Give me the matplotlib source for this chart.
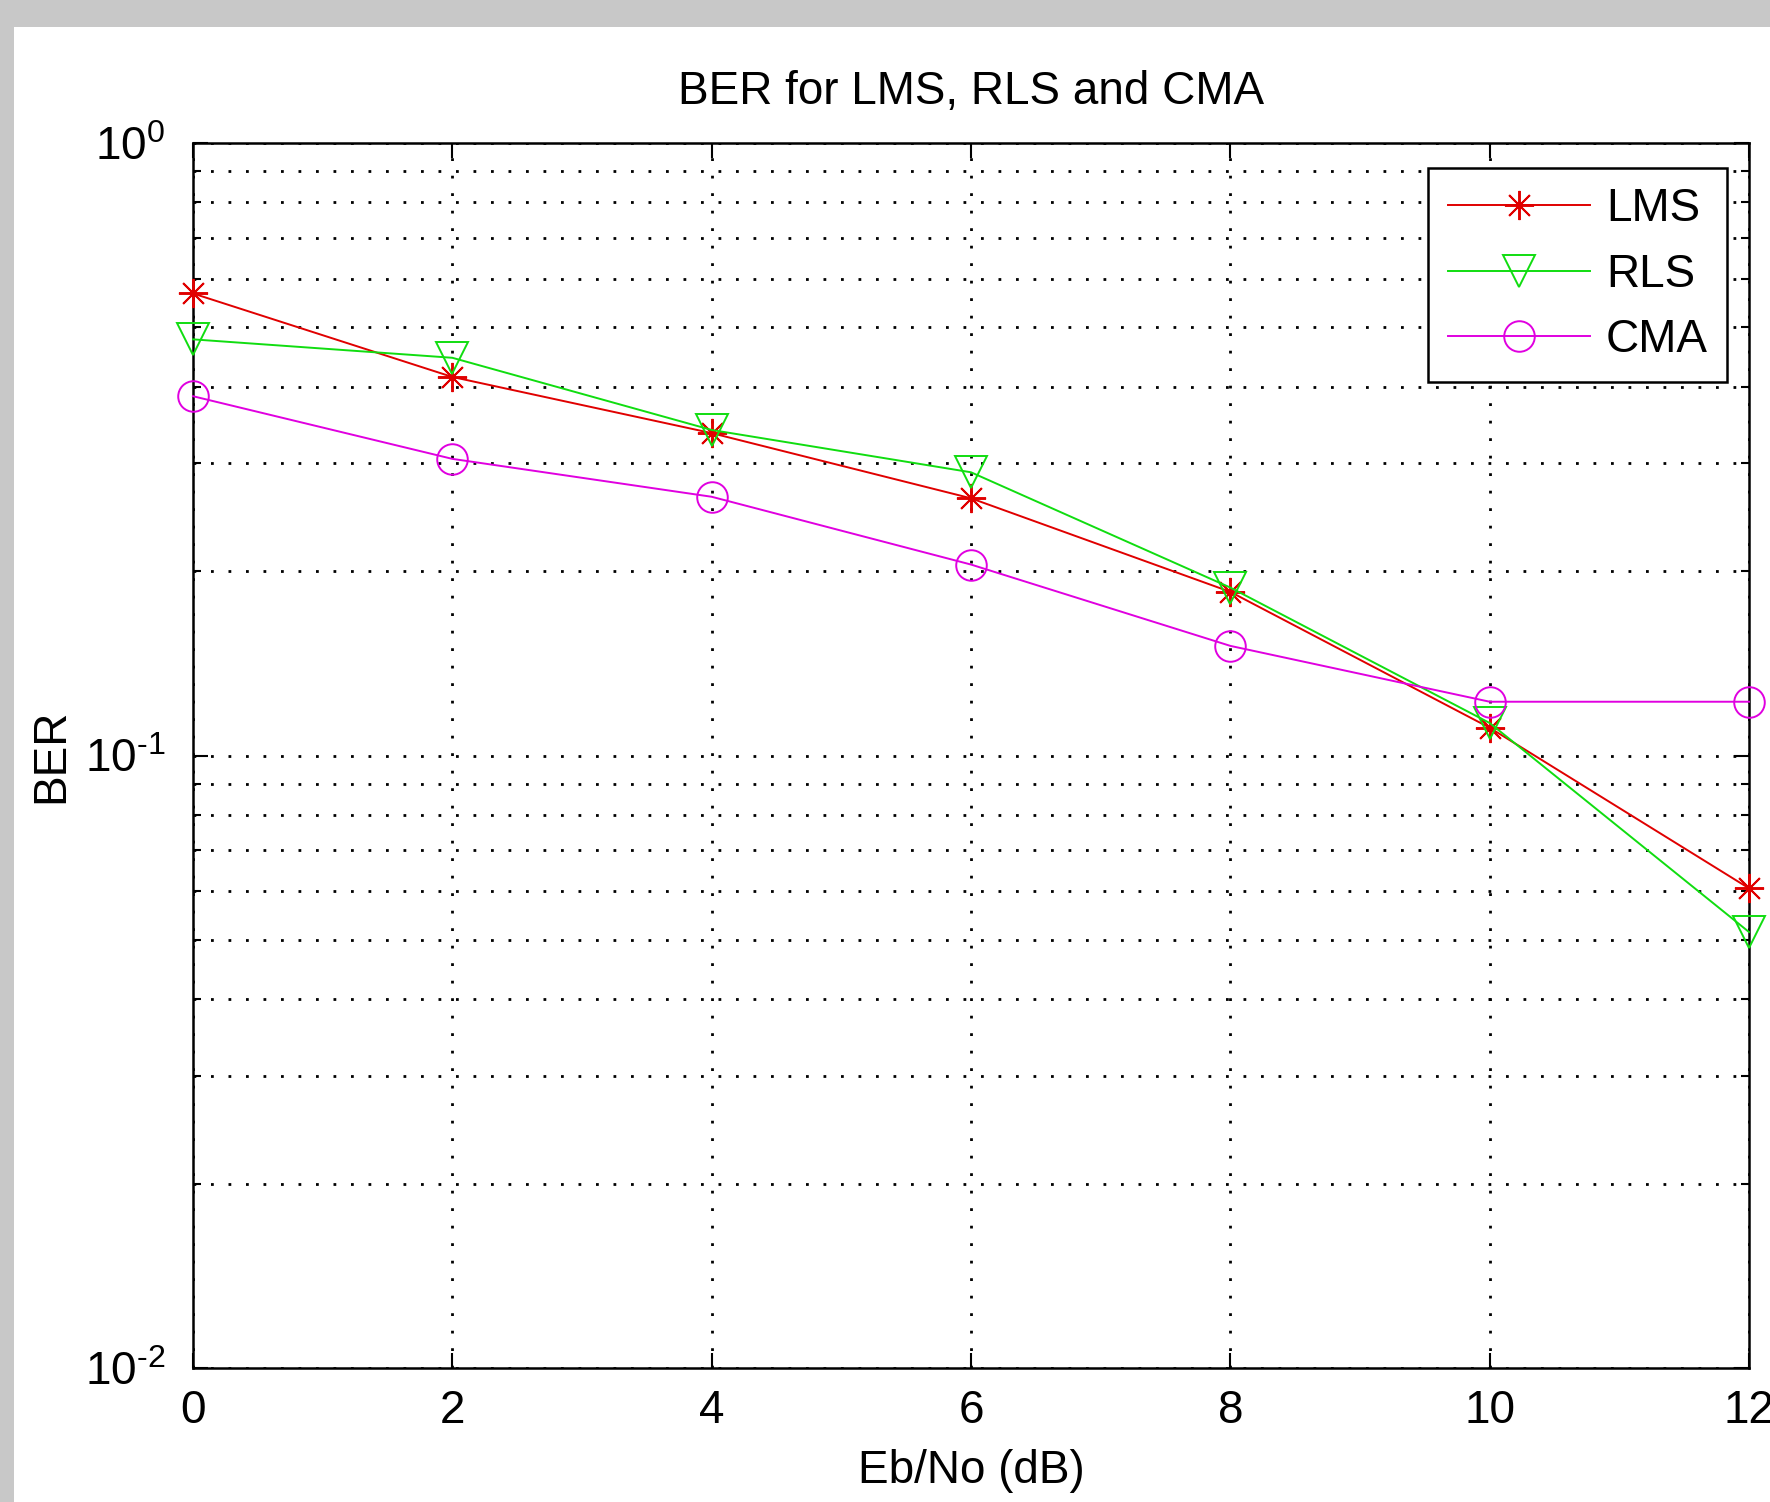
import numpy as np
import matplotlib
matplotlib.use("Agg")
import matplotlib.pyplot as plt
from matplotlib.patches import Rectangle

plt.rcParams['font.family'] = ['Liberation Sans', 'DejaVu Sans']
plt.rcParams['mathtext.fontset'] = 'custom'
plt.rcParams['mathtext.rm'] = 'Liberation Sans'

# data
snr = [0, 2, 4, 6, 8, 10, 12]
ber_lms = [0.568, 0.415, 0.336, 0.263, 0.185, 0.111, 0.0607]
ber_rls = [0.478, 0.446, 0.340, 0.290, 0.188, 0.113, 0.0515]
ber_cma = [0.386, 0.305, 0.2645, 0.205, 0.151, 0.1224, 0.1224]
x_ticks = [0, 2, 4, 6, 8, 10, 12]
y_ticks = [1e-2, 1e-1, 1e0]
y_ticklabels = [r'$\mathregular{10^{\text{-}2}}$', r'$\mathregular{10^{\text{-}1}}$', r'$\mathregular{10^{0}}$']

W, H = 1770, 1502
fig = plt.figure(figsize=(W / 100, H / 100), dpi=100, facecolor='#c8c8c8')
# white figure area (gray frame only on the left and top)
fig.add_artist(Rectangle((14 / W, 0), 1, (H - 27) / H, transform=fig.transFigure,
                         facecolor='white', edgecolor='none', zorder=0))

ax = fig.add_axes([193 / W, 1 - 1368 / H, (1749 - 193) / W, (1368 - 143) / H])
ax.set_yscale('log')
ax.set_xlim(0, 12)
ax.set_ylim(1e-2, 1)

fs = 33
ax.plot(snr, ber_lms, color='#e00000', lw=1.4, marker=(8, 2, 0), ms=21, mew=1.4,
        label='LMS', clip_on=False, zorder=5)
ax.plot(snr, ber_rls, color='#10dd10', lw=1.4, marker='v', ms=23, mew=1.4, mfc='none',
        label='RLS', clip_on=False, zorder=5)
ax.plot(snr, ber_cma, color='#e000e0', lw=1.4, marker='o', ms=22, mew=1.4, mfc='none',
        label='CMA', clip_on=False, zorder=5)

# MATLAB style dotted grid
dots = (0, (1, 5.3))
ax.grid(True, which='major', axis='both', color='black', lw=2, linestyle=dots)
ax.grid(True, which='minor', axis='y', color='black', lw=2, linestyle=dots)
ax.set_axisbelow(True)

ax.set_xticks(x_ticks)
ax.set_xticklabels([str(t) for t in x_ticks])
ax.set_yticks(y_ticks)
ax.set_yticklabels(y_ticklabels)
ax.tick_params(which='both', direction='in', top=True, right=True, labelsize=fs, width=1.5)
ax.tick_params(which='major', length=11)
ax.tick_params(which='minor', length=6)
ax.tick_params(axis='x', pad=15)
ax.tick_params(axis='y', pad=20)
for sp in ax.spines.values():
    sp.set_linewidth(1.8)

ax.set_title('BER for LMS, RLS and CMA', fontsize=fs, pad=28)
ax.set_xlabel('Eb/No (dB)', fontsize=fs)
ax.xaxis.set_label_coords(0.5, (1368 - 1449) / 1225)
ax.set_ylabel('BER', fontsize=fs)
ax.yaxis.set_label_coords((73 - 193) / 1556, 0.5)

leg = ax.legend(loc='upper right', bbox_to_anchor=(0.9859, 0.9796), borderaxespad=0,
                fontsize=fs, fancybox=False, edgecolor='black', framealpha=1,
                handlelength=3.1, handletextpad=0.35, labelspacing=0.47, borderpad=0.42)
leg.get_frame().set_linewidth(1.8)

fig.savefig('out.png', dpi=100, facecolor=fig.get_facecolor())
